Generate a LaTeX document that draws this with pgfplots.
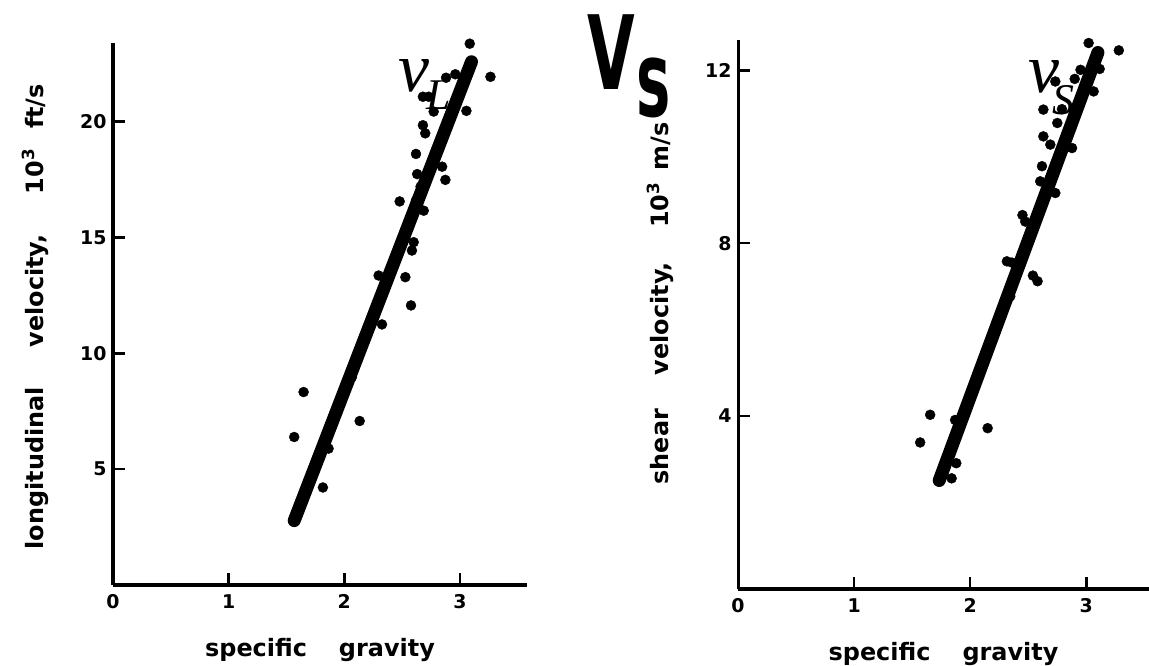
\documentclass[border=0pt]{standalone}
\usepackage{fontspec}
\setmainfont{DejaVu Sans}
\newfontfamily\serifit{Liberation Serif}
\usepackage{graphicx}
\usepackage{pgfplots}
\pgfplotsset{compat=1.18}
\pgfplotsset{myax/.style={
  scale only axis, axis lines=left, axis line style={-, line width=3bp},
  tick align=inside, major tick length=12bp, tick style={line width=2.5bp, black},
  xtick={0,1,2,3}, xmin=0, ymin=0, clip=false,
  /pgf/number format/assume math mode=true,
  ticklabel style={font=\bfseries\fontsize{19}{19}\selectfont},
  yticklabel style={xshift=-3bp},
  xticklabel style={yshift=-6bp},
  xlabel={specific\hspace{32bp}gravity},
  xlabel style={font=\bfseries\fontsize{24}{24}\selectfont, at={(axis description cs:0.5,0)}, anchor=center, yshift=-65bp},
  ylabel style={font=\bfseries\fontsize{24}{24}\selectfont, anchor=center, rotate=0},
}}
\begin{document}
\begin{tikzpicture}
% big Vs
\node[anchor=base west, inner sep=0] at (587bp,576bp) {\scalebox{0.6}[1]{\fontsize{103}{103}\selectfont\bfseries V}};
\node[anchor=base west, inner sep=0] at (636bp,549bp) {\scalebox{0.55}[1]{\fontsize{105}{105}\selectfont\bfseries s}};
% annotations
\node[anchor=base west, inner sep=0, font=\serifit\itshape\fontsize{70}{70}\selectfont] at (398bp,574bp) {v};
\node[anchor=base west, inner sep=0, font=\serifit\itshape\fontsize{44}{44}\selectfont] at (426bp,556bp) {L};
\node[anchor=base west, inner sep=0, font=\serifit\itshape\fontsize{70}{70}\selectfont] at (1028bp,573bp) {v};
\node[anchor=base west, inner sep=0, font=\serifit\itshape\fontsize{44}{44}\selectfont] at (1052bp,551bp) {S};

\begin{axis}[myax, at={(113bp,81bp)}, anchor=south west, width=414bp, height=542bp,
  xmax=3.58, ymax=23.4, ytick={5,10,15,20},
  ylabel={longitudinal\hspace{40bp}velocity,\hspace{40bp}10\textsuperscript{3}\hspace{20bp}ft/s},
  ylabel style={at={(axis description cs:-0.188,0.495)}}]
\addplot[black, line width=13bp, line cap=round] coordinates {(1.567,2.78) (3.10,22.59)};
\addplot[black, only marks, mark=*, mark size=5bp] coordinates {
(3.085,23.37) (3.264,21.94) (2.96,22.05) (2.68,21.08) (2.73,21.08) (2.773,20.44) (3.056,20.47)
(2.68,19.85) (2.70,19.5) (2.62,18.61) (2.846,18.06) (2.874,17.49) (2.63,17.74) (2.479,16.56)
(2.687,16.16) (2.585,14.44) (2.528,13.29) (2.297,13.36) (2.577,12.07) (2.326,11.25)
(1.648,8.33) (2.133,7.08) (1.567,6.39) (1.864,5.89) (1.815,4.21) (2.066,8.98)
(2.60,14.8) (2.66,17.2) (2.88,21.9) (2.62,16.6)
};
\end{axis}

\begin{axis}[myax, at={(738bp,77bp)}, anchor=south west, width=411bp, height=549bp,
  xmax=3.54, ymax=12.7, ytick={4,8,12},
  ylabel={shear\hspace{34bp}velocity,\hspace{34bp}10\textsuperscript{3}\hspace{12bp}m/s},
  ylabel style={at={(axis description cs:-0.19,0.52)}}]
\addplot[black, line width=13bp, line cap=round] coordinates {(1.733,2.51) (3.10,12.41)};
\addplot[black, only marks, mark=*, mark size=5bp] coordinates {
(3.02,12.63) (3.28,12.46) (2.95,12.01) (3.115,12.03) (3.063,11.51) (2.733,11.74)
(2.63,11.09) (2.79,11.10) (2.63,10.47) (2.75,10.78) (2.69,10.28) (2.877,10.20)
(2.618,9.78) (2.603,9.43) (2.733,9.16) (2.474,8.50) (2.316,7.58) (2.54,7.25) (2.58,7.12)
(2.345,6.77) (1.655,4.03) (1.569,3.39) (2.15,3.72) (1.87,3.91) (1.88,2.91) (1.84,2.56)
(2.45,8.65) (2.36,7.55) (2.90,11.8)
};
\end{axis}
\pgfresetboundingbox
\path[use as bounding box] (0bp,0bp) rectangle (1149bp,666bp);
\end{tikzpicture}
\end{document}
